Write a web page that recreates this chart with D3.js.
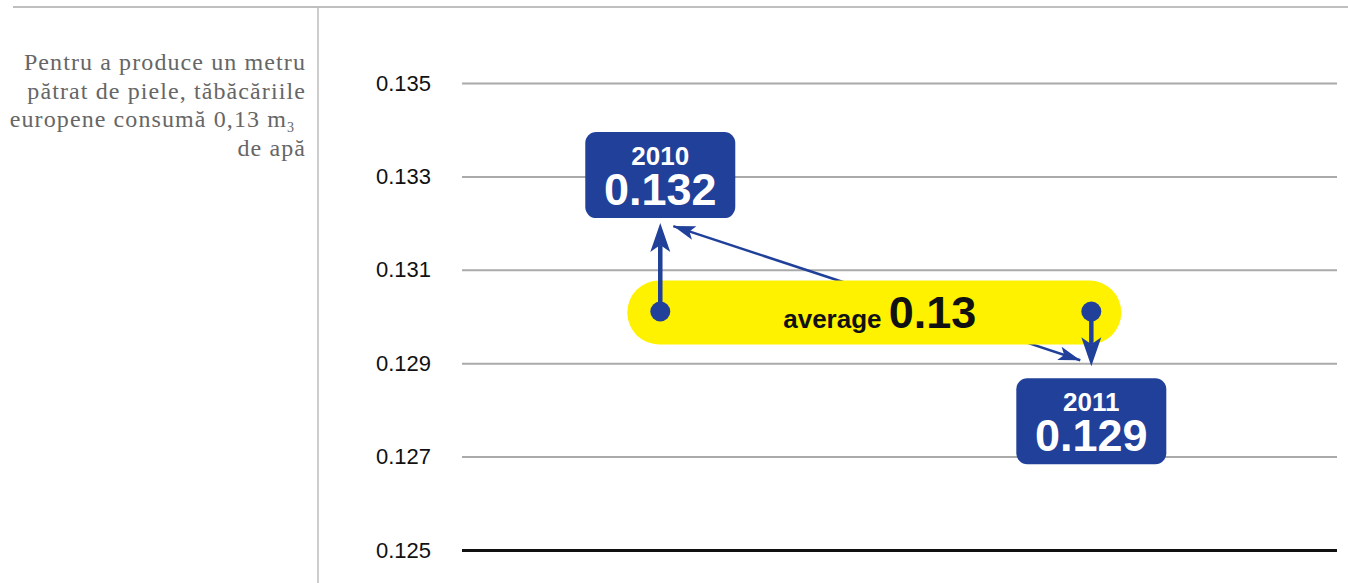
<!DOCTYPE html>
<html>
<head>
<meta charset="utf-8">
<script src="https://cdn.jsdelivr.net/npm/d3@7"></script>
<style>
  body { margin: 0; background: #fff; }
  svg { display: block; }
</style>
</head>
<body>
<svg id="chart" width="1348" height="583"></svg>
<script>
// values
const years = [2010, 2011];
const values = [0.132, 0.129];
const average = 0.13;
const tickValues = [0.125, 0.127, 0.129, 0.131, 0.133, 0.135];
const noteLines = ["Pentru a produce un metru", "pătrat de piele, tăbăcăriile", "europene consumă 0,13 m", "de apă"];

const blue = "#21409a";
const yellow = "#fff200";

const svg = d3.select("#chart");

const y = d3.scaleLinear().domain([0.125, 0.135]).range([550, 83]);
const x = d3.scaleLinear().domain([2009.54, 2011.57]).range([462, 1337]);

// frame lines
svg.append("line")
  .attr("x1", 13).attr("x2", 1348).attr("y1", 7).attr("y2", 7)
  .style("stroke", "#aaa").style("stroke-width", 1.5);
svg.append("line")
  .attr("x1", 318).attr("x2", 318).attr("y1", 7).attr("y2", 583)
  .style("stroke", "#bbb").style("stroke-width", 1.5);

// side note
const note = svg.append("text")
  .attr("text-anchor", "end")
  .style("font-family", "'Liberation Serif', 'Times New Roman', serif")
  .style("font-size", "24px")
  .style("letter-spacing", "1.1px")
  .style("fill", "#666");
noteLines.forEach(function(t, i) {
  note.append("tspan").attr("x", i == 2 ? 294 : 306).attr("y", 70 + i * 28.7).text(t);
  if (i == 2) {
    note.append("tspan").attr("dy", 5).style("font-size", "14px").style("letter-spacing", "0").text("3");
  }
});

// axis with gridlines
const axis = d3.axisLeft(y)
  .tickValues(tickValues)
  .tickSize(-(1337 - 462))
  .tickPadding(31)
  .tickFormat(d3.format(".3f"));

const gAxis = svg.append("g")
  .attr("transform", "translate(462,0)")
  .call(axis);
gAxis.select(".domain").remove();
gAxis.selectAll(".tick line")
  .style("stroke", d => d == 0.125 ? "#111" : "#aaa")
  .style("stroke-width", d => d == 0.125 ? 3 : 2);
gAxis.selectAll(".tick text")
  .style("font-family", "'Liberation Sans', Arial, sans-serif")
  .style("font-size", "22px")
  .style("fill", "#111");

// diagonal connector (behind the pill)
const p0 = [x(years[0]) + 13, y(values[0]) + 3];
const p1 = [x(years[1]) - 11, y(values[1]) - 3];
svg.append("line")
  .attr("x1", p0[0]).attr("y1", p0[1]).attr("x2", p1[0]).attr("y2", p1[1])
  .style("stroke", blue).style("stroke-width", 2.5);

const headPath = function(tip, from, len, half, notch) {
  const dx = from[0] - tip[0], dy = from[1] - tip[1];
  const l = Math.sqrt(dx * dx + dy * dy);
  const ux = dx / l, uy = dy / l;
  const px = -uy, py = ux;
  const b = [tip[0] + ux * len, tip[1] + uy * len];
  const n = [tip[0] + ux * notch, tip[1] + uy * notch];
  return "M" + tip + "L" + [b[0] + px * half, b[1] + py * half] + "L" + n + "L" + [b[0] - px * half, b[1] - py * half] + "Z";
};

svg.append("path").attr("d", headPath(p0, p1, 22, 7, 17)).style("fill", blue);
svg.append("path").attr("d", headPath(p1, p0, 22, 7, 17)).style("fill", blue);

// average pill
const pillY = y(average) - 4;
svg.append("rect")
  .attr("x", x(years[0]) - 33)
  .attr("y", pillY - 32)
  .attr("width", x(years[1]) - x(years[0]) + 63)
  .attr("height", 64)
  .attr("rx", 32)
  .style("fill", yellow);

const avgText = svg.append("text")
  .attr("x", (x(years[0]) + x(years[1])) / 2 + 4)
  .attr("y", pillY + 15)
  .attr("text-anchor", "middle")
  .style("font-family", "'Liberation Sans', Arial, sans-serif")
  .style("font-weight", "bold")
  .style("fill", "#111");
avgText.append("tspan").style("font-size", "26px").text("average ");
avgText.append("tspan").style("font-size", "45px").text(d3.format(".2f")(average));

// vertical arrows from the average to each year
years.forEach(function(yr, i) {
  const cx = x(yr);
  const tip = [cx, i == 0 ? y(values[i]) : y(values[i]) + 3];
  const start = [cx, pillY - 1];
  svg.append("path").attr("d", headPath(tip, start, 29, 10, 22)).style("fill", blue);
  svg.append("line")
    .attr("x1", cx).attr("x2", cx).attr("y1", start[1]).attr("y2", tip[1] + (start[1] > tip[1] ? 22 : -22))
    .style("stroke", blue).style("stroke-width", 4.5);
  svg.append("circle").attr("cx", cx).attr("cy", start[1]).attr("r", 10).style("fill", blue);
});

// value boxes
years.forEach(function(yr, i) {
  const cx = x(yr);
  const top = i == 0 ? y(values[i]) - 5 - 86 : y(values[i]) + 15;
  const g = svg.append("g");
  g.append("rect")
    .attr("x", cx - 75).attr("y", top)
    .attr("width", 150).attr("height", 86)
    .attr("rx", 11)
    .style("fill", blue);
  g.append("text")
    .attr("x", cx).attr("y", top + 33)
    .attr("text-anchor", "middle")
    .style("font-family", "'Liberation Sans', Arial, sans-serif")
    .style("font-weight", "bold")
    .style("font-size", "26px")
    .style("fill", "#fff")
    .text(yr);
  g.append("text")
    .attr("x", cx).attr("y", top + 73)
    .attr("text-anchor", "middle")
    .style("font-family", "'Liberation Sans', Arial, sans-serif")
    .style("font-weight", "bold")
    .style("font-size", "45px")
    .style("fill", "#fff")
    .text(d3.format(".3f")(values[i]));
});
</script>
</body>
</html>
